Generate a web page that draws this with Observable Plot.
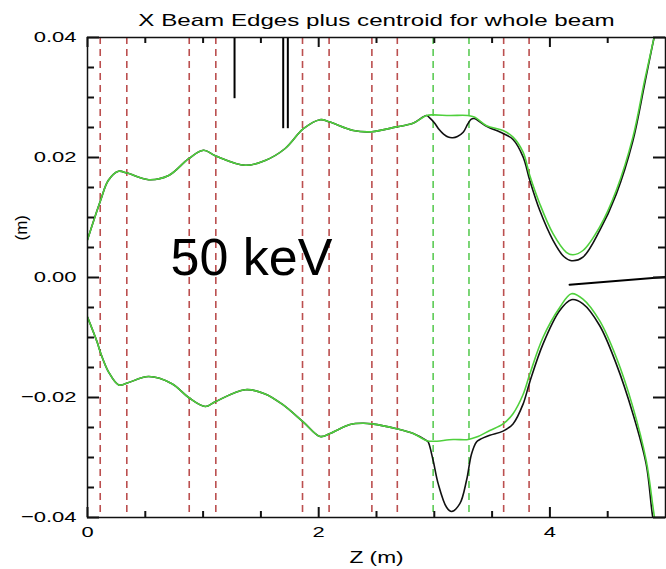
<!DOCTYPE html>
<html><head><meta charset="utf-8">
<script src="https://cdn.jsdelivr.net/npm/d3@7"></script>
<script src="https://cdn.jsdelivr.net/npm/@observablehq/plot@0.6"></script>
<style>
body{margin:0;background:#fff;}
#chart svg{display:block;}
</style></head><body><div id="chart"></div>
<script>
// ---- data ----
const titleText = "X Beam Edges plus centroid for whole beam";
const xLabel = "Z (m)";
const yLabel = "(m)";
const annotation = "50 keV";

// shared beginning of upper edge (black and green coincide)
const upperSharedZ = [0.000,0.112,0.181,0.268,0.343,0.529,0.702,0.875,1.004,1.105,1.364,1.537,1.710,1.868,2.012,2.098,2.300,2.459,2.674,2.815,2.933];
const upperSharedY = [0.0063,0.0128,0.0162,0.0177,0.0174,0.0163,0.0170,0.0198,0.0212,0.0203,0.0187,0.0195,0.0215,0.0248,0.0263,0.0259,0.0245,0.0243,0.0251,0.0257,0.0270];
const upperGreenZ = [2.988,3.135,3.290,3.351,3.452,3.595,3.681,3.768,3.826,3.912,4.027,4.142,4.200,4.286,4.430,4.574,4.718,4.819,4.899,4.960];
const upperGreenY = [0.0271,0.0270,0.0270,0.0267,0.0253,0.0245,0.0234,0.0209,0.0170,0.0123,0.0073,0.0042,0.0038,0.0045,0.0084,0.0145,0.0234,0.0328,0.0398,0.0450];
const upperBlackZ = [2.960,3.000,3.040,3.080,3.120,3.160,3.200,3.250,3.290,3.320,3.345,3.452,3.595,3.681,3.768,3.826,3.912,4.027,4.120,4.186,4.286,4.430,4.574,4.718,4.819,4.896,4.960];
const upperBlackY = [0.0266,0.0258,0.0247,0.0239,0.0234,0.0233,0.0235,0.0242,0.0256,0.0264,0.0265,0.0252,0.0240,0.0230,0.0201,0.0162,0.0112,0.0062,0.0035,0.0028,0.0034,0.0078,0.0139,0.0228,0.0322,0.0395,0.0450];

// shared beginning of lower edge
const lowerSharedZ = [0.000,0.084,0.112,0.184,0.270,0.343,0.529,0.731,0.875,1.019,1.105,1.364,1.537,1.690,1.868,2.012,2.098,2.271,2.386,2.459,2.674,2.818,2.934];
const lowerSharedY = [-0.0066,-0.0108,-0.0125,-0.0158,-0.0179,-0.0176,-0.0165,-0.0177,-0.0200,-0.0215,-0.0207,-0.0187,-0.0194,-0.0212,-0.0241,-0.0265,-0.0260,-0.0245,-0.0243,-0.0244,-0.0252,-0.0260,-0.0272];
const lowerGreenZ = [2.990,3.163,3.293,3.365,3.480,3.595,3.681,3.768,3.826,3.940,4.085,4.186,4.286,4.430,4.574,4.718,4.833,4.905,4.960];
const lowerGreenY = [-0.0273,-0.0270,-0.0270,-0.0266,-0.0255,-0.0244,-0.0227,-0.0195,-0.0161,-0.0100,-0.0050,-0.0027,-0.0036,-0.0072,-0.0133,-0.0216,-0.0305,-0.0400,-0.0460];
const lowerBlackZ = [2.947,2.990,3.034,3.106,3.149,3.221,3.279,3.322,3.365,3.394,3.480,3.595,3.681,3.768,3.826,3.940,4.085,4.186,4.286,4.430,4.574,4.718,4.833,4.890,4.960];
const lowerBlackY = [-0.0274,-0.0305,-0.0344,-0.0383,-0.0390,-0.0377,-0.0338,-0.0294,-0.0274,-0.0270,-0.0263,-0.0256,-0.0244,-0.0211,-0.0174,-0.0111,-0.0055,-0.0037,-0.0044,-0.0080,-0.0144,-0.0227,-0.0311,-0.0400,-0.0470];

// centroid segment
const centroidZ = [4.17, 5.00];
const centroidY = [-0.0012, 0.0001];

// element boundaries
const redDashZ = [0.11,0.34,0.88,1.11,1.86,2.09,2.46,2.68,3.60,3.82];
const greenDashZ = [2.99,3.30];

// short black markers hanging from top
const markerZ = [1.272,1.693,1.733];
const markerBottomY = [0.0298,0.0248,0.0248];

// ticks
const xMajorTicks = [0,2,4];
const xMinorTicks = [0.5,1,1.5,2.5,3,3.5,4.5];
const yMajorTicks = [-0.04,-0.02,0,0.02,0.04];
const yMinorTicks = [-0.035,-0.03,-0.025,-0.015,-0.01,-0.005,0.005,0.01,0.015,0.025,0.03,0.035];

// ---- layout ----
const W = 666, H = 569, mL = 87, mR = 1, mT = 37, mB = 52;
const xDomain = [0, 5], yDomain = [-0.04, 0.04];
const frameW = W - mL - mR, frameH = H - mT - mB;
const zPerPx = (xDomain[1] - xDomain[0]) / frameW;
const yPerPx = (yDomain[1] - yDomain[0]) / frameH;

// ---- build tables ----
const zip = (zs, ys) => zs.map((z, i) => ({z, y: ys[i]}));
const upperBlack = zip(upperSharedZ.concat(upperBlackZ), upperSharedY.concat(upperBlackY));
const upperGreen = zip(upperSharedZ.concat(upperGreenZ), upperSharedY.concat(upperGreenY));
const lowerBlack = zip(lowerSharedZ.concat(lowerBlackZ), lowerSharedY.concat(lowerBlackY));
const lowerGreen = zip(lowerSharedZ.concat(lowerGreenZ), lowerSharedY.concat(lowerGreenY));
const centroid = zip(centroidZ, centroidY);
const markers = markerZ.map((z, i) => ({z, y1: 0.04, y2: markerBottomY[i]}));

const green = "#4fd03c";
const axisStroke = "#111";
const fmtY = d => d3.format(".2f")(d);
const tickStyle = {stroke: axisStroke, strokeWidth: 2};
// inward tick marks as short rules running in from the frame edges
const ticksBottom = (t, len) => Plot.ruleX(t, {x: d => d, y1: yDomain[0], y2: yDomain[0] + len * yPerPx, ...tickStyle});
const ticksTop = (t, len) => Plot.ruleX(t, {x: d => d, y1: yDomain[1] - len * yPerPx, y2: yDomain[1], ...tickStyle});
const ticksLeft = (t, len) => Plot.ruleY(t, {y: d => d, x1: xDomain[0], x2: xDomain[0] + len * zPerPx, ...tickStyle});
const ticksRight = (t, len) => Plot.ruleY(t, {y: d => d, x1: xDomain[1] - len * zPerPx, x2: xDomain[1], ...tickStyle});

const chart = Plot.plot({
  width: W, height: H,
  marginLeft: mL, marginRight: mR, marginTop: mT, marginBottom: mB,
  style: {fontFamily: "'Liberation Sans', Arial, sans-serif", fontSize: "15.5px", background: "white", color: "black"},
  x: {domain: xDomain},
  y: {domain: yDomain},
  marks: [
    Plot.ruleX(redDashZ, {stroke: "#bb4f4f", strokeWidth: 1.6, strokeDasharray: "7,5"}),
    Plot.ruleX(greenDashZ, {stroke: "#5ccb55", strokeWidth: 1.6, strokeDasharray: "7,5"}),
    Plot.ruleX(markers, {x: "z", y1: "y1", y2: "y2", stroke: "black", strokeWidth: 2}),
    Plot.line(centroid, {x: "z", y: "y", stroke: "black", strokeWidth: 2, clip: true}),
    Plot.line(upperBlack, {x: "z", y: "y", curve: "catmull-rom", stroke: "#111", strokeWidth: 1.6, clip: true}),
    Plot.line(lowerBlack, {x: "z", y: "y", curve: "catmull-rom", stroke: "#111", strokeWidth: 1.6, clip: true}),
    Plot.line(upperGreen, {x: "z", y: "y", curve: "catmull-rom", stroke: green, strokeWidth: 1.6, clip: true}),
    Plot.line(lowerGreen, {x: "z", y: "y", curve: "catmull-rom", stroke: green, strokeWidth: 1.6, clip: true}),
    Plot.frame({stroke: axisStroke, strokeWidth: 1.5}),
    // tick marks (inward)
    ticksBottom(xMajorTicks, 10),
    ticksBottom(xMinorTicks, 6),
    ticksTop(xMajorTicks, 10),
    ticksTop(xMinorTicks, 6),
    ticksLeft(yMajorTicks, 12),
    ticksLeft(yMinorTicks, 7),
    ticksRight(yMajorTicks, 12),
    ticksRight(yMinorTicks, 7),
    // tick labels
    Plot.axisX({anchor: "bottom", ticks: xMajorTicks, tickSize: 0, tickPadding: 8, tickFormat: d => String(d), label: null, fill: "black"}),
    Plot.axisY({anchor: "left", ticks: yMajorTicks, tickSize: 0, tickPadding: 11, tickFormat: fmtY, label: null, fill: "black"}),
    // titles
    Plot.text([titleText], {frameAnchor: "top", lineAnchor: "bottom", dy: -12, fontSize: 17, fill: "black"}),
    Plot.text([xLabel], {frameAnchor: "bottom", lineAnchor: "bottom", dy: 45, fontSize: 16, fill: "black"}),
    Plot.text([yLabel], {frameAnchor: "left", rotate: -90, dx: -66, dy: -37, fontSize: 17, fill: "black"}),
    Plot.text([annotation], {x: [0.718], y: [0.0005], text: d => d, textAnchor: "start", lineAnchor: "bottom", fontSize: 52, fill: "black"})
  ]
});
document.getElementById("chart").append(chart);

// the reference lettering is horizontally stretched
const svg = chart.tagName.toLowerCase() === "svg" ? chart : chart.querySelector("svg");
svg.querySelectorAll("text").forEach(t => {
  const s = t.textContent;
  if (s === annotation || s === yLabel) return;
  const w = t.getComputedTextLength();
  if (w > 0) {
    t.setAttribute("textLength", (w * 1.42).toFixed(1));
    t.setAttribute("lengthAdjust", "spacingAndGlyphs");
  }
});
</script>
</body></html>
